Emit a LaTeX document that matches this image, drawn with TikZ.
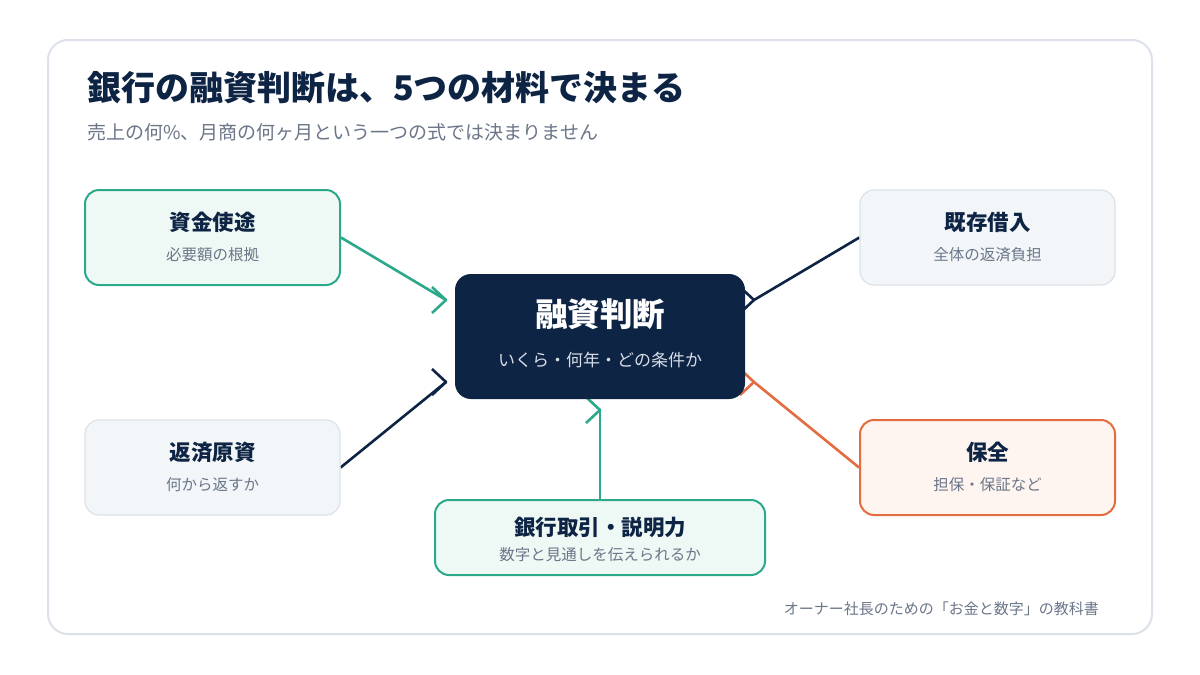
\documentclass[tikz,border=0pt]{standalone}
\usepackage{fontspec}
\setmainfont{Noto Sans CJK JP}
\usetikzlibrary{positioning}

\definecolor{navy}{HTML}{0E2444}
\definecolor{inkgray}{HTML}{6B7689}
\definecolor{cardline}{HTML}{DDE2EA}
\definecolor{mint}{HTML}{2BA98A}
\definecolor{mintfill}{HTML}{EEF8F4}
\definecolor{slateline}{HTML}{DCE2EA}
\definecolor{slatefill}{HTML}{F3F6F9}
\definecolor{coral}{HTML}{E36C40}
\definecolor{coralfill}{HTML}{FEF4F0}
\definecolor{hubsub}{HTML}{D6DDE7}

\pgfdeclarelayer{card}
\pgfdeclarelayer{links}
\pgfsetlayers{card,links,main}

\tikzset{
  box/.style={rounded corners=14pt, minimum width=255pt, minimum height=95pt, inner sep=0pt},
  greenbox/.style={box, draw=mint, line width=2pt, fill=mintfill},
  graybox/.style={box, draw=slateline, line width=1.2pt, fill=slatefill},
  orangebox/.style={box, draw=coral, line width=2pt, fill=coralfill},
  head/.style={inner sep=0pt, text=navy, font=\fontsize{21.5}{25}\selectfont\bfseries},
  sub/.style={inner sep=0pt, text=inkgray, font=\fontsize{15.5}{18}\selectfont},
  link/.style={line width=2.6pt, line join=round},
}

\begin{document}
\begin{tikzpicture}[x=1pt,y=-1pt]

  % page and card
  \useasboundingbox (0,0) rectangle (1200,675);
  \begin{pgfonlayer}{card}
    \fill[white] (0,0) rectangle (1200,675);
    \draw[cardline, line width=2pt, fill=white, rounded corners=20pt] (48,40) rectangle (1152,634);
  \end{pgfonlayer}

  % title
  \node[anchor=west, inner sep=0pt, text=navy, font=\fontsize{34}{39}\selectfont\bfseries] (title) at (87,88) {銀行の融資判断は、5つの材料で決まる};
  \node[anchor=west, inner sep=0pt, text=inkgray, font=\fontsize{19}{23}\selectfont] (subtitle) at (87,132) {売上の何\%、月商の何ヶ月という一つの式では決まりません};

  % the five inputs
  \node[greenbox] (use) at (212.5,237.5) {};
  \node[head, yshift=15.5pt] at (use.center) {資金使途};
  \node[sub, yshift=-17.5pt] at (use.center) {必要額の根拠};

  \node[graybox] (debt) at (987.5,237.5) {};
  \node[head, yshift=15.5pt] at (debt.center) {既存借入};
  \node[sub, yshift=-17.5pt] at (debt.center) {全体の返済負担};

  \node[graybox] (repay) at (212.5,467.5) {};
  \node[head, yshift=15.5pt] at (repay.center) {返済原資};
  \node[sub, yshift=-17.5pt] at (repay.center) {何から返すか};

  \node[orangebox] (secure) at (987.5,467.5) {};
  \node[head, yshift=15.5pt] at (secure.center) {保全};
  \node[sub, yshift=-17.5pt] at (secure.center) {担保・保証など};

  \node[greenbox, minimum width=330pt, minimum height=75pt] (bank) at (600,537.5) {};
  \node[head, yshift=10.5pt] at (bank.center) {銀行取引・説明力};
  \node[sub, yshift=-17.5pt] at (bank.center) {数字と見通しを伝えられるか};

  % the decision
  \node[box, fill=navy, rounded corners=16pt, minimum width=290pt, minimum height=125pt] (hub) at (600,336.5) {};
  \node[inner sep=0pt, text=white, font=\fontsize{32.5}{36}\selectfont\bfseries, yshift=22.5pt] at (hub.center) {融資判断};
  \node[inner sep=0pt, text=hubsub, font=\fontsize{17}{20}\selectfont, yshift=-23.5pt] at (hub.center) {いくら・何年・どの条件か};

  % arrow tips
  \coordinate (t-use) at (446,300);
  \coordinate (t-repay) at (446,382);
  \coordinate (t-debt) at (754,300);
  \coordinate (t-secure) at (754,382);
  \coordinate (t-bank) at (600,410);

  \begin{pgfonlayer}{links}
    \draw[link, mint] (use.east) -- (t-use);
    \draw[link, navy] (repay.east) -- (t-repay);
    \draw[link, navy] (debt.west) -- (t-debt);
    \draw[link, coral] (secure.west) -- (t-secure);
    \draw[link, mint] (bank.north) -- (t-bank);

    \draw[link, mint] ([shift={(-14,-13)}]t-use) -- (t-use) -- ([shift={(-14,13)}]t-use);
    \draw[link, navy] ([shift={(-14,-13)}]t-repay) -- (t-repay) -- ([shift={(-14,13)}]t-repay);
    \draw[link, navy] ([shift={(-14,-13)}]t-debt) -- (t-debt) -- ([shift={(-14,13)}]t-debt);
    \draw[link, coral] ([shift={(-14,-13)}]t-secure) -- (t-secure) -- ([shift={(-14,13)}]t-secure);
    \draw[link, mint] ([shift={(-14,-13)}]t-bank) -- (t-bank) -- ([shift={(-14,13)}]t-bank);
  \end{pgfonlayer}

  % footer
  \node[anchor=east, inner sep=0pt, text=inkgray, font=\fontsize{15}{18}\selectfont] (credit) at (1099,609) {オーナー社長のための「お金と数字」の教科書};

\end{tikzpicture}
\end{document}
